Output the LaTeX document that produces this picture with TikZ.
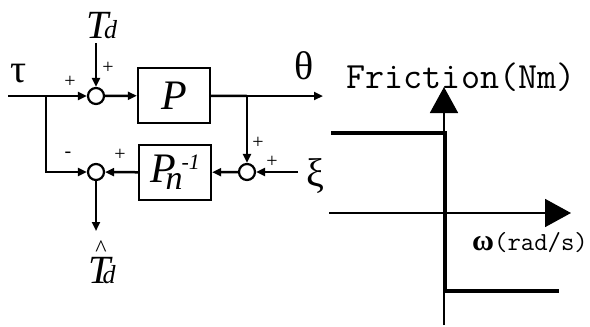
\documentclass[tikz,border=0pt]{standalone}
\usepackage{fontspec}
\setmainfont{Liberation Serif}
\usetikzlibrary{arrows.meta}
\begin{document}
\begin{tikzpicture}[x=1pt,y=-1pt,
  sig/.style={line width=2.5pt,-{Triangle[length=9pt,width=8pt]}},
  ln/.style={line width=2.5pt},
  sumnode/.style={circle,draw,line width=2.2pt,minimum size=16pt,inner sep=0pt},
  blk/.style={draw,line width=2.4pt,minimum width=72pt,minimum height=55pt,inner sep=0pt},
  sgn/.style={inner sep=0pt,font=\fontsize{20}{20}\selectfont},
  big/.style={inner sep=0pt,font=\fontsize{40}{40}\selectfont},
  axis/.style={line width=1.8pt,-{Triangle[length=26pt,width=28pt]}},
  fric/.style={line width=4pt,miter limit=10}]
\useasboundingbox (0,0) rectangle (590,327);
% block diagram
\coordinate (in) at (8,96);
\coordinate (b1) at (46,96);
\node[sumnode] (s1) at (96,96) {};
\node[blk] (P) at (174,95.5) {\fontsize{42}{42}\selectfont\itshape P};
\coordinate (b2) at (247,96);
\coordinate (out) at (323,96);
\node[sumnode] (s2) at (96,172) {};
\node[blk] (Pn) at (175,172.5) {\fontsize{42}{42}\selectfont\itshape P\kern-10pt\raisebox{-7pt}{\fontsize{34}{34}\selectfont n}\kern-1pt\raisebox{13pt}{\fontsize{22}{22}\selectfont -1}};
\node[sumnode] (s3) at (247,172) {};
\coordinate (xi) at (298,172);
\coordinate (tdin) at (96,43);
\coordinate (tdout) at (96,231);

\draw[ln] (in) -- (b1);
\draw[sig] (b1) -- (s1);
\draw[sig] (s1) -- (P);
\draw[ln] (P) -- (b2);
\draw[sig] (b2) -- (out);
\draw[sig] (tdin) -- (s1);
\draw[sig] (b1) |- (s2);
\draw[sig] (b2) -- (s3);
\draw[sig] (xi) -- (s3);
\draw[sig] (s3) -- (Pn);
\draw[sig] (Pn) -- (s2);
\draw[sig] (s2) -- (tdout);

% labels
\node[big] (tau) at (19,74) {τ};
\node[big] (theta) at (304,66) {θ};
\node[big] (xil) at (315,176) {ξ};
\node[inner sep=0pt] (Td) at (102,26) {\fontsize{40}{40}\selectfont\itshape T\kern-5pt{\fontsize{26}{26}\selectfont d}};
\node[inner sep=0pt] (Tdh) at (102,271) {\fontsize{40}{40}\selectfont\itshape\rlap{\hspace{7pt}\smash{\raisebox{27pt}{\upshape\fontsize{24}{24}\selectfont\^{}}}}T\kern-8pt{\fontsize{26}{26}\selectfont d}};
\node[sgn] (p1) at (108,68) {+};
\node[sgn] (p2) at (70,82) {+};
\node[sgn] (m1) at (68,155) {-};
\node[sgn] (p3) at (120,155) {+};
\node[sgn] (p4) at (258,143) {+};
\node[sgn] (p5) at (272,162) {+};

% friction plot
\coordinate (vb) at (444,325);
\coordinate (vt) at (444,87);
\coordinate (hl) at (329,213);
\coordinate (hr) at (571,213);
\draw[axis] (vb) -- (vt);
\draw[axis] (hl) -- (hr);
\draw[fric] (331,133) -- (445,133) -- (445,291) -- (559,291);
\node[inner sep=0pt] (fr) at (461,77) {\ttfamily\fontsize{37}{37}\selectfont Friction(Nm)};
\node[inner sep=0pt,anchor=west] (om) at (472,243) {\fontsize{30}{30}\selectfont\bfseries ω\ttfamily\mdseries\fontsize{26}{26}\selectfont(rad/s)};
\end{tikzpicture}
\end{document}
